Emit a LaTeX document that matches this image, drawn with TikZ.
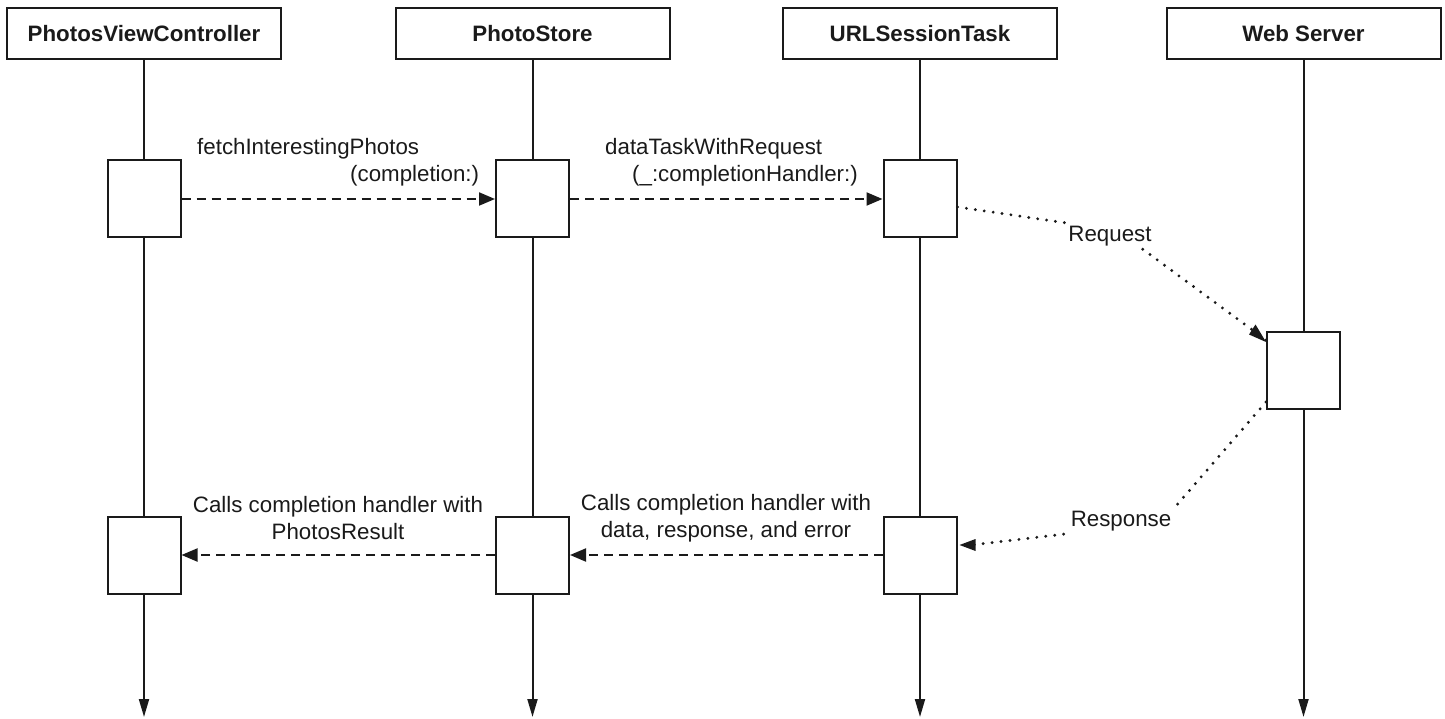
\documentclass[tikz,border=0pt]{standalone}
\usepackage{fontspec}
\setmainfont{Liberation Sans}
\usetikzlibrary{arrows.meta}
\definecolor{ink}{HTML}{1A1A1A}
\begin{document}
\begin{tikzpicture}[x=1pt,y=-1pt,
  every node/.style={text=ink},
  head/.style={draw=ink, line width=2pt, fill=white, minimum width=274pt, minimum height=51pt, inner sep=0pt,
     font=\fontsize{22.3}{27}\selectfont\bfseries},
  act/.style={draw=ink, line width=2pt, fill=white, minimum width=73pt, minimum height=77pt, inner sep=0pt},
  life/.style={draw=ink, line width=2pt, -{Triangle[length=18pt,width=10pt]}},
  msg/.style={draw=ink, line width=2pt, dash pattern=on 9pt off 6pt, -{Triangle[length=16pt,width=13pt]}},
  dotmsg/.style={draw=ink, line width=3.2pt, line cap=round, dash pattern=on 0pt off 9pt},
  lbl/.style={inner sep=0pt, font=\fontsize{22.3}{27}\selectfont},
  wlbl/.style={inner sep=3pt, fill=white, font=\fontsize{22.3}{27}\selectfont}
]
\useasboundingbox (0,0) rectangle (1445,719);

% lifeline headers
\node[head] (h1) at (144,33.5) {PhotosViewController};
\node[head] (h2) at (532.5,33.5) {PhotoStore};
\node[head] (h3) at (920,33.5) {URLSessionTask};
\node[head] (h4) at (1303.5,33.5) {Web Server};

\coordinate (e1) at (144,717);
\coordinate (e2) at (532.5,717);
\coordinate (e3) at (920,717);
\coordinate (e4) at (1303.5,717);

\draw[life] (h1) -- (e1);
\draw[life] (h2) -- (e2);
\draw[life] (h3) -- (e3);
\draw[life] (h4) -- (e4);

% activation boxes
\node[act] (a1) at (144,199) {};
\node[act] (a2) at (532.5,199) {};
\node[act] (a3) at (920,199) {};
\node[act] (ws) at (1303.5,370) {};
\node[act] (b1) at (144,555) {};
\node[act] (b2) at (532.5,555) {};
\node[act] (b3) at (920,555) {};

% forward calls
\draw[msg] (a1.east) -- (a2.west);
\draw[msg] (a2.east) -- (a3.west);
\node[lbl, anchor=west, align=left] (m1) at (197,162) {fetchInterestingPhotos\\\hspace*{153pt}(completion:)};
\node[lbl, anchor=west, align=left] (m2) at (605,162) {dataTaskWithRequest\\\hspace*{27pt}(\_:completionHandler:)};

% request / response
\node[wlbl] (req) at (1110,236) {Request};
\node[wlbl] (resp) at (1121,521) {Response};
\draw[dotmsg] ([yshift=-8pt]a3.east) -- (req.north west);
\draw[dotmsg] ([xshift=-12pt]req.south east) -- ([yshift=30pt]ws.west);
\fill[ink] ([yshift=28pt]ws.west) -- ++(-17,-7.5) -- ++(6.5,-10) -- cycle;
\draw[dotmsg] ([yshift=-32pt]ws.west) -- (resp.north east);
\draw[dotmsg] ([xshift=-4pt]resp.south west) -- ([xshift=14pt,yshift=10pt]b3.east);
\fill[ink] ([xshift=2pt,yshift=10pt]b3.east) -- ++(16,-6) -- ++(0,12) -- cycle;

% returns
\draw[msg] (b3.west) -- (b2.east);
\draw[msg] (b2.west) -- (b1.east);
\node[lbl, align=center] (m3) at (338,518) {Calls completion handler with\\PhotosResult};
\node[lbl, align=center] (m4) at (726,518) {Calls completion handler with\\data, response, and error};
\end{tikzpicture}
\end{document}
